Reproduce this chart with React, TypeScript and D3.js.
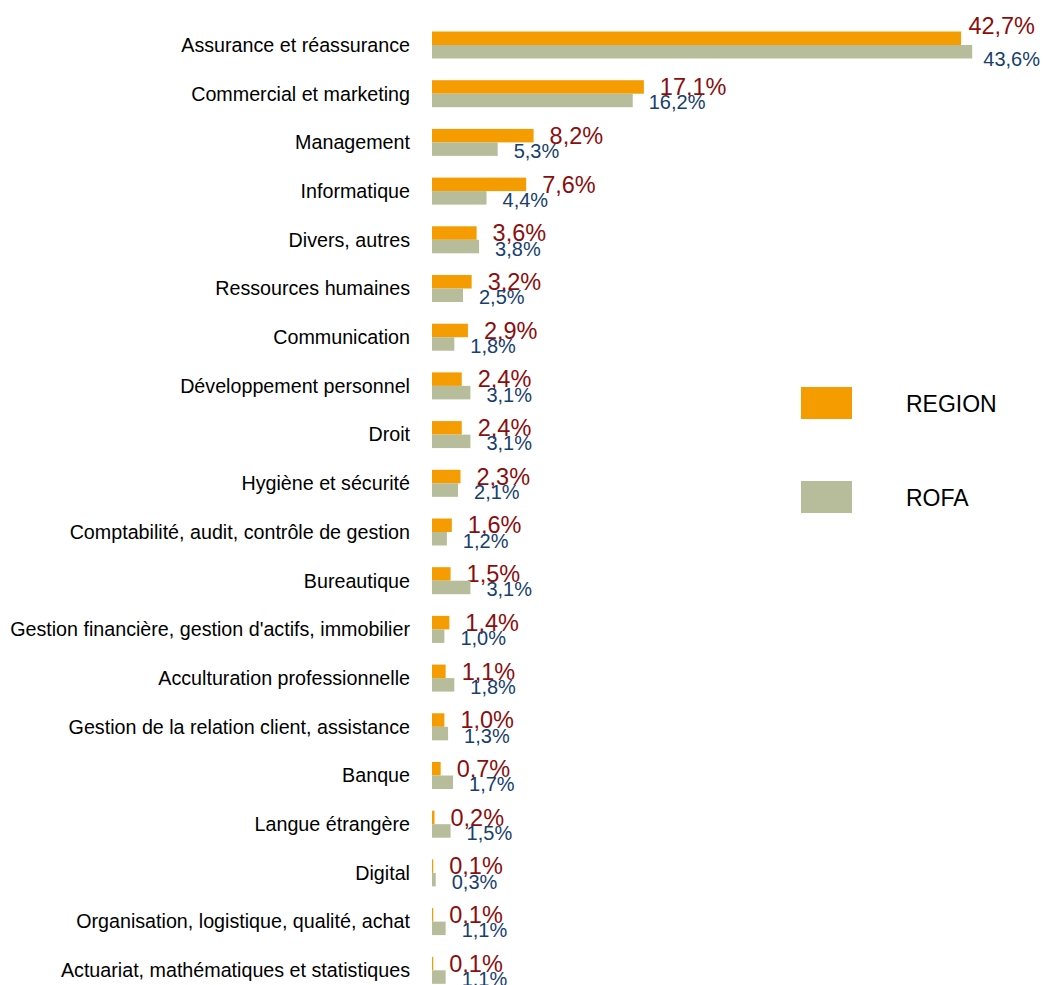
import React, { useEffect, useRef } from 'react';
import * as d3 from 'd3';

// categories, top to bottom
const categories = [
  'Assurance et réassurance',
  'Commercial et marketing',
  'Management',
  'Informatique',
  'Divers, autres',
  'Ressources humaines',
  'Communication',
  'Développement personnel',
  'Droit',
  'Hygiène et sécurité',
  'Comptabilité, audit, contrôle de gestion',
  'Bureautique',
  "Gestion financière, gestion d'actifs, immobilier",
  'Acculturation professionnelle',
  'Gestion de la relation client, assistance',
  'Banque',
  'Langue étrangère',
  'Digital',
  'Organisation, logistique, qualité, achat',
  'Actuariat, mathématiques et statistiques',
];

const seriesNames = ['REGION', 'ROFA'];

// values in %
const regionValues = [42.7, 17.1, 8.2, 7.6, 3.6, 3.2, 2.9, 2.4, 2.4, 2.3, 1.6, 1.5, 1.4, 1.1, 1.0, 0.7, 0.2, 0.1, 0.1, 0.1];
const rofaValues = [43.6, 16.2, 5.3, 4.4, 3.8, 2.5, 1.8, 3.1, 3.1, 2.1, 1.2, 3.1, 1.0, 1.8, 1.3, 1.7, 1.5, 0.3, 1.1, 1.1];

const barColors = ['#F59C00', '#B7BD9B'];
const labelColors = ['#8B0E0E', '#16406E'];
const labelSizes = [23.5, 20];

const W = 1043;
const H = 985;

const frLocale = d3.formatLocale({ decimal: ',', thousands: ' ', grouping: [3], currency: ['', ' €'] });
const fmt = frLocale.format('.1%');

export default function App() {
  const ref = useRef<SVGSVGElement>(null);

  useEffect(() => {
    document.body.style.margin = '0';
    const svg = d3.select(ref.current);
    svg.selectAll('*').remove();

    const font = "'Liberation Sans', Arial, sans-serif";
    const step = 48.7;
    const firstCenter = 45;

    // one band per category, centred on the boundary between the two bars
    const y = d3.scaleBand()
      .domain(categories)
      .range([firstCenter - step / 2, firstCenter - step / 2 + step * categories.length])
      .padding(0);
    const inner = d3.scaleBand()
      .domain(seriesNames)
      .range([0, 27]);
    const x = d3.scaleLinear()
      .domain([0, 45])
      .range([432, 432 + 45 * 12.39]);

    const chart = svg.append('g');

    // category labels
    chart.selectAll('text.cat')
      .data(categories)
      .enter()
      .append('text')
      .attr('class', 'cat')
      .attr('x', 410)
      .attr('y', d => (y(d) as number) + y.bandwidth() / 2)
      .attr('dy', '0.35em')
      .attr('text-anchor', 'end')
      .style('font-family', font)
      .style('font-size', '19.7px')
      .style('fill', '#000')
      .text(d => d);

    const seriesData = [regionValues, rofaValues];

    seriesData.forEach((vals, s) => {
      const name = seriesNames[s];
      const rows = categories.map((c, i) => ({ c, v: vals[i] }));
      const top = (c: string) => (y(c) as number) + y.bandwidth() / 2 - 13.5 + (inner(name) as number);

      chart.selectAll('rect.s' + s)
        .data(rows)
        .enter()
        .append('rect')
        .attr('class', 's' + s)
        .attr('x', x(0))
        .attr('y', d => top(d.c))
        .attr('width', d => x(d.v) - x(0))
        .attr('height', inner.bandwidth())
        .style('fill', barColors[s]);

      // value labels, pushed back inside the page when they would overflow
      const fs = labelSizes[s];
      const estW = fs * 2.835;
      const rightEdge = s === 0 ? 1035 : 1040;
      chart.selectAll('text.l' + s)
        .data(rows)
        .enter()
        .append('text')
        .attr('class', 'l' + s)
        .attr('x', d => Math.min(x(d.v) + 16, rightEdge - estW))
        .attr('y', d => {
          const cy = top(d.c) + inner.bandwidth() / 2 + (s === 1 ? 2 : 0);
          const over = x(d.v) + 16 > rightEdge - estW;
          return over ? cy + (s === 0 ? -12 : 5) : cy;
        })
        .attr('dy', '0.35em')
        .style('font-family', font)
        .style('font-size', fs + 'px')
        .style('fill', labelColors[s])
        .text(d => fmt(d.v / 100));
    });

    // legend
    const legend = svg.append('g');
    const legendY = d3.scalePoint().domain(seriesNames).range([403, 497]);
    seriesNames.forEach((n, i) => {
      const cy = legendY(n) as number;
      legend.append('rect')
        .attr('x', 801)
        .attr('y', cy - 16)
        .attr('width', 51)
        .attr('height', 32)
        .style('fill', barColors[i]);
      legend.append('text')
        .attr('x', 906)
        .attr('y', cy + 1)
        .attr('dy', '0.35em')
        .style('font-family', font)
        .style('font-size', '23px')
        .style('fill', '#000')
        .text(n);
    });
  }, []);

  return <svg ref={ref} width={W} height={H} style={{ display: 'block', background: '#fff' }} />;
}
